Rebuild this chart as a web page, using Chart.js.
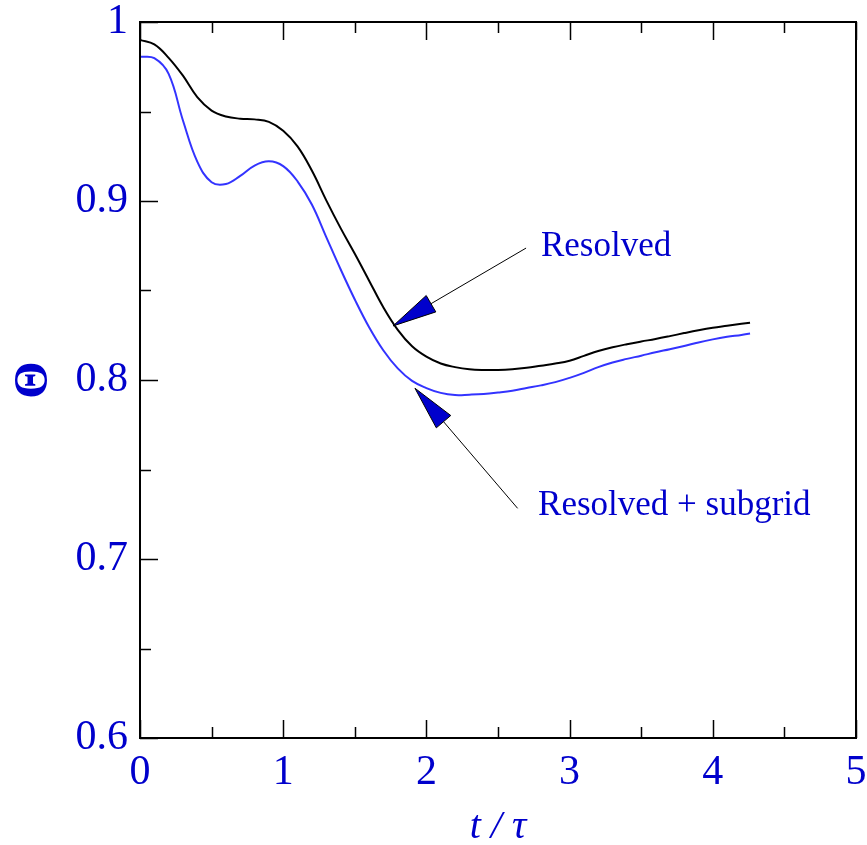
<!DOCTYPE html>
<html>
<head>
<meta charset="utf-8">
<script src="https://cdn.jsdelivr.net/npm/chart.js@4.4.1/dist/chart.umd.min.js"></script>
<style>
  html, body { margin: 0; padding: 0; background: #ffffff; }
  #c { display: block; }
</style>
</head>
<body>
<canvas id="c" width="867" height="845"></canvas>
<script>
// ---- data ----
const tValues = [0.0,0.1,0.2,0.3,0.4,0.5,0.6,0.7,0.8,0.9,1.0,1.1,1.2,1.3,1.4,1.5,1.6,1.7,1.8,1.9,2.0,2.1,2.2,2.3,2.4,2.5,2.6,2.7,2.8,2.9,3.0,3.1,3.2,3.3,3.4,3.5,3.6,3.7,3.8,3.9,4.0,4.1,4.2,4.26];
const resolved = [0.990,0.9875,0.980,0.970,0.958,0.9505,0.9472,0.9460,0.9456,0.9442,0.9392,0.9305,0.9170,0.9005,0.8850,0.8705,0.8555,0.8405,0.8280,0.8188,0.8130,0.8092,0.8072,0.8060,0.8056,0.8056,0.8060,0.8068,0.8080,0.8092,0.8108,0.8135,0.8162,0.8183,0.8200,0.8215,0.8229,0.8245,0.8262,0.8278,0.8292,0.8303,0.8314,0.8320];
const resolvedSubgrid = [0.9806,0.9798,0.971,0.945,0.922,0.9105,0.9095,0.9140,0.9198,0.9222,0.9195,0.9110,0.8980,0.8800,0.8620,0.8450,0.8295,0.8165,0.8065,0.7995,0.7955,0.7928,0.7916,0.7918,0.7922,0.7930,0.7940,0.7955,0.7970,0.7988,0.8012,0.8040,0.8072,0.8098,0.8118,0.8136,0.8155,0.8172,0.8190,0.8210,0.8227,0.8241,0.8252,0.8260];
const xTicks = [0,1,2,3,4,5];
const yTicks = [0.6,0.7,0.8,0.9,1.0];
const seriesLabels = ['Resolved', 'Resolved + subgrid'];

// annotation anchors in data units
const notes = [
  { text: seriesLabels[0], at: [2.80, 0.8693], tail: [2.696, 0.8737], tip: [1.767, 0.8302] },
  { text: seriesLabels[1], at: [2.78, 0.7246], tail: [2.637, 0.7283], tip: [1.920, 0.7954] }
];

const toPts = (ys) => ys.map((y, i) => ({ x: tValues[i], y: y }));
const TEXT_BLUE = '#0000cc';
const SERIF = '"Liberation Serif", "Times New Roman", serif';

function midpoints(arr) {
  const out = [];
  for (let i = 0; i < arr.length - 1; i++) out.push((arr[i] + arr[i + 1]) / 2);
  return out;
}

const framePlugin = {
  id: 'frame',
  afterDatasetsDraw(chart) {
    const { ctx, chartArea: a, scales } = chart;
    const xs = scales.x, ys = scales.y;
    ctx.save();
    ctx.strokeStyle = '#000';
    ctx.lineWidth = 1.5;
    ctx.beginPath();
    const xt = (vals, len) => vals.forEach(v => {
      const p = Math.round(xs.getPixelForValue(v)) + 0.5;
      ctx.moveTo(p, a.bottom); ctx.lineTo(p, a.bottom - len);
      ctx.moveTo(p, a.top); ctx.lineTo(p, a.top + len);
    });
    const yt = (vals, len) => vals.forEach(v => {
      const p = Math.round(ys.getPixelForValue(v)) + 0.5;
      ctx.moveTo(a.left, p); ctx.lineTo(a.left + len, p);
    });
    xt(xTicks, 18); xt(midpoints(xTicks), 11);
    yt(yTicks, 18); yt(midpoints(yTicks), 11);
    ctx.stroke();
    ctx.lineWidth = 2;
    ctx.strokeRect(a.left, a.top, a.right - a.left, a.bottom - a.top);

    notes.forEach(n => {
      const tx = xs.getPixelForValue(n.tail[0]), ty = ys.getPixelForValue(n.tail[1]);
      const px = xs.getPixelForValue(n.tip[0]), py = ys.getPixelForValue(n.tip[1]);
      const dx = px - tx, dy = py - ty;
      const L = Math.hypot(dx, dy);
      const ux = dx / L, uy = dy / L;
      const headLen = 44, halfW = 9.5;
      const bx = px - ux * headLen, by = py - uy * headLen;
      ctx.lineWidth = 1;
      ctx.strokeStyle = '#000';
      ctx.beginPath();
      ctx.moveTo(tx, ty); ctx.lineTo(bx, by);
      ctx.stroke();
      ctx.beginPath();
      ctx.moveTo(px, py);
      ctx.lineTo(bx - uy * halfW, by + ux * halfW);
      ctx.lineTo(bx + uy * halfW, by - ux * halfW);
      ctx.closePath();
      ctx.fillStyle = TEXT_BLUE;
      ctx.fill();
      ctx.stroke();
      ctx.font = '35px ' + SERIF;
      ctx.fillStyle = TEXT_BLUE;
      ctx.textAlign = 'left';
      ctx.textBaseline = 'alphabetic';
      ctx.fillText(n.text, xs.getPixelForValue(n.at[0]), ys.getPixelForValue(n.at[1]));
    });
    ctx.restore();
  }
};

new Chart(document.getElementById('c'), {
  type: 'line',
  data: {
    datasets: [
      { label: seriesLabels[0], data: toPts(resolved), borderColor: '#000000', borderWidth: 2, pointRadius: 0, tension: 0.4, fill: false },
      { label: seriesLabels[1], data: toPts(resolvedSubgrid), borderColor: '#3333ff', borderWidth: 2, pointRadius: 0, tension: 0.4, fill: false }
    ]
  },
  options: {
    responsive: false,
    animation: false,
    devicePixelRatio: 1,
    layout: { padding: { top: 22, right: 11, left: 0, bottom: 0 } },
    plugins: { legend: { display: false }, tooltip: { enabled: false } },
    scales: {
      x: {
        type: 'linear', min: 0, max: 5,
        grid: { display: false, drawTicks: false },
        border: { display: false },
        afterBuildTicks: (s) => { s.ticks = xTicks.map(v => ({ value: v })); },
        afterFit: (s) => { s.height = 107; s.paddingLeft = 0; s.paddingRight = 0; },
        ticks: {
          color: TEXT_BLUE, padding: 14, maxRotation: 0, autoSkip: false,
          font: { family: SERIF, size: 42, lineHeight: 1.0 },
          callback: (v) => String(v)
        },
        title: {
          display: true, text: 't / τ', color: TEXT_BLUE,
          font: { family: SERIF, size: 40, style: 'italic', lineHeight: 0.9 },
          padding: { top: 0, bottom: 0 }
        }
      },
      y: {
        type: 'linear', min: 0.6, max: 1.0,
        grid: { display: false, drawTicks: false },
        border: { display: false },
        afterBuildTicks: (s) => { s.ticks = yTicks.map(v => ({ value: v })); },
        afterFit: (s) => { s.width = 140; s.paddingTop = 0; s.paddingBottom = 0; },
        ticks: {
          color: TEXT_BLUE, padding: 12, autoSkip: false,
          font: { family: SERIF, size: 42, lineHeight: 1.0 },
          callback: (v) => String(Math.round(v * 10) / 10)
        },
        title: {
          display: true, text: 'Θ', color: TEXT_BLUE,
          font: { family: SERIF, size: 48, weight: 'bold', lineHeight: 1.0 },
          padding: { top: 11, bottom: 0 }
        }
      }
    }
  },
  plugins: [framePlugin]
});
</script>
</body>
</html>
